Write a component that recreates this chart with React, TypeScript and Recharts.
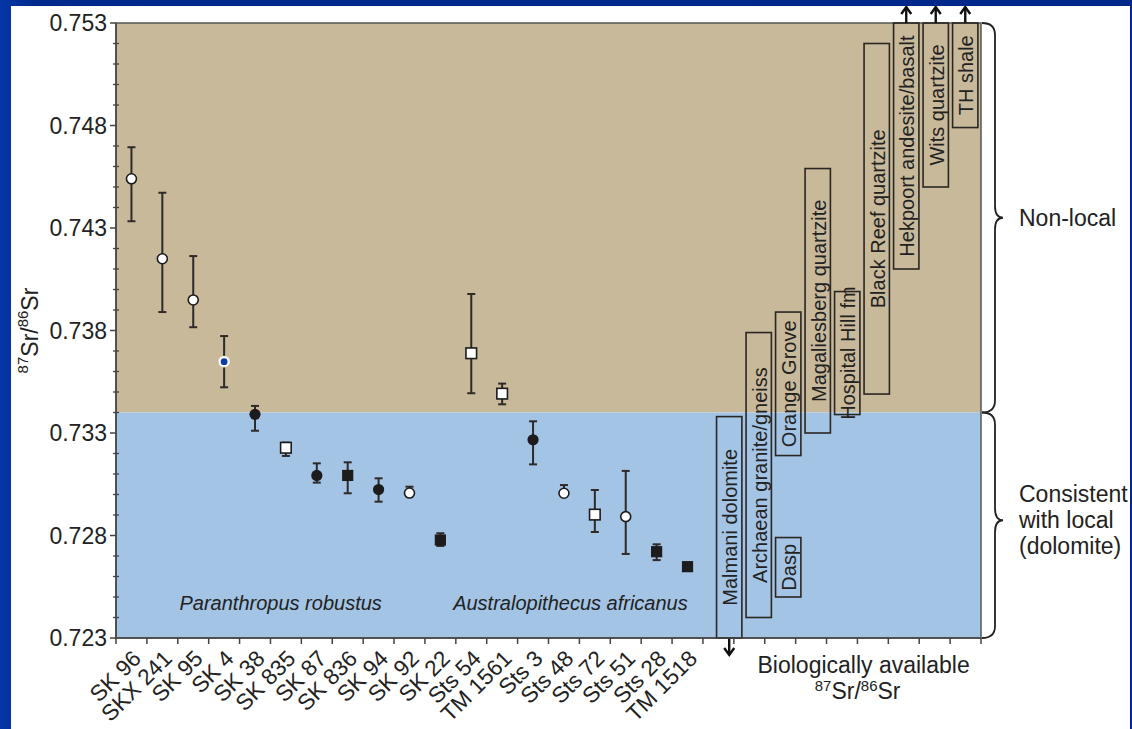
import React from "react";
import {
  ComposedChart,
  Scatter,
  ErrorBar,
  XAxis,
  YAxis,
  ReferenceArea,
  ReferenceDot,
  Label,
} from "recharts";

// hominin tooth enamel samples, left to right
const specimens = [
  "SK 96", "SKX 241", "SK 95", "SK 4", "SK 38", "SK 835", "SK 87", "SK 836", "SK 94", "SK 92",
  "SK 22", "Sts 54", "TM 1561", "Sts 3", "Sts 48", "Sts 72", "Sts 51", "Sts 28", "TM 1518",
];
const srRatio = [
  0.7454, 0.7415, 0.73949, 0.73648, 0.73391, 0.73228, 0.73093, 0.73093, 0.73024, 0.73007,
  0.72778, 0.73689, 0.73492, 0.73267, 0.73006, 0.72902, 0.72892, 0.72721, 0.72648,
];
const errAbove = [
  0.00154, 0.00322, 0.00214, 0.00125, 0.00041, 0.00025, 0.00059, 0.00064, 0.00055, 0.00031,
  0.00033, 0.00289, 0.00049, 0.0009, 0.0004, 0.0012, 0.00223, 0.00036, 0,
];
const errBelow = [
  0.00207, 0.0026, 0.00133, 0.00125, 0.0008, 0.0004, 0.00035, 0.00087, 0.00059, 0.0001,
  0.00029, 0.00195, 0.00052, 0.0012, 0.0001, 0.00085, 0.00182, 0.00041, 0,
];
const markerKinds = [
  "openCircle", "openCircle", "openCircle", "blueCircle", "filledCircle", "openSquare",
  "filledCircle", "filledSquare", "filledCircle", "openCircle", "filledSquare", "openSquare",
  "openSquare", "filledCircle", "openCircle", "openSquare", "openCircle", "filledSquare",
  "filledSquare",
];

// biologically available Sr of the rock units (null = runs off the chart)
const rockUnits = [
  "Malmani dolomite", "Archaean granite/gneiss", "Orange Grove", "Dasp",
  "Magaliesberg quartzite", "Hospital Hill fm", "Black Reef quartzite",
  "Hekpoort andesite/basalt", "Wits quartzite", "TH shale",
];
const rockLow: (number | null)[] = [null, 0.724, 0.7319, 0.725, 0.733, 0.7339, 0.7349, 0.741, 0.745, 0.7479];
const rockHigh: (number | null)[] = [0.7338, 0.7379, 0.7389, 0.7279, 0.7459, 0.7399, 0.752, null, null, null];
const rockColumn = [0, 1, 2, 2, 3, 4, 5, 6, 7, 8];

const yMajorTicks = [0.723, 0.728, 0.733, 0.738, 0.743, 0.748, 0.753];
const LOCAL_MAX = 0.734;

const Y_MIN = 0.723;
const Y_MAX = 0.753;
const N_BANDS = 28;

const W = 1119;
const H = 723;
const M_TOP = 17;
const M_RIGHT = 149;
const Y_AXIS_W = 105;
const X_AXIS_H = 91;
const PLOT_LEFT = Y_AXIS_W;
const PLOT_BOTTOM = H - X_AXIS_H;
const BAND = (W - M_RIGHT - PLOT_LEFT) / N_BANDS;

const GEO_START = 19.85;
const GEO_STEP = 0.955;
const GEO_HALF = 0.41;

const FONT = '"Liberation Sans", Arial, Helvetica, sans-serif';
const INK = "#1c1c1c";
const TAN = "#c9b99b";
const BLUE = "#a4c4e5";

const points = specimens.map((name, i) => ({
  name,
  x: i + 0.5,
  y: srRatio[i],
  err: [errBelow[i], errAbove[i]],
  kind: markerKinds[i],
}));

const yTicks: number[] = [];
for (let i = 0; i <= 30; i++) yTicks.push(Math.round((Y_MIN + i * 0.001) * 1000) / 1000);
const xTicks: number[] = [];
for (let i = 0; i <= N_BANDS; i++) xTicks.push(i);

function Marker(props: any) {
  const { cx, cy, payload } = props;
  const k = payload.kind;
  if (k === "openCircle")
    return <circle cx={cx} cy={cy} r={5} fill="#fff" stroke={INK} strokeWidth={1.6} />;
  if (k === "blueCircle")
    return (
      <g>
        <circle cx={cx} cy={cy} r={5.2} fill="#fff" stroke="#f4f4f4" strokeWidth={1.2} />
        <circle cx={cx} cy={cy} r={3.4} fill="#0a3ea6" />
      </g>
    );
  if (k === "filledCircle") return <circle cx={cx} cy={cy} r={5.6} fill={INK} />;
  if (k === "openSquare")
    return <rect x={cx - 5.3} y={cy - 5.3} width={10.6} height={10.6} fill="#fff" stroke={INK} strokeWidth={1.6} />;
  return <rect x={cx - 5.6} y={cy - 5.6} width={11.2} height={11.2} fill={INK} />;
}

function YTick(props: any) {
  const { y, payload } = props;
  const v = payload.value;
  const major = yMajorTicks.some((t) => Math.abs(t - v) < 1e-7);
  return (
    <g>
      {major ? (
        <line x1={PLOT_LEFT - 6} x2={PLOT_LEFT} y1={y} y2={y} stroke="#444" strokeWidth={1.5} />
      ) : (
        <line x1={PLOT_LEFT - 3} x2={PLOT_LEFT + 3} y1={y} y2={y} stroke="#444" strokeWidth={1.3} />
      )}
      {major && (
        <text x={PLOT_LEFT - 9} y={y} textAnchor="end" dominantBaseline="central" fontSize={23} fill="#222" fontFamily={FONT}>
          {v.toFixed(3)}
        </text>
      )}
    </g>
  );
}

function XTick(props: any) {
  const { x, payload } = props;
  const v = payload.value;
  const label = v < specimens.length ? specimens[v] : null;
  const lx = x + BAND / 2 + 11;
  const ly = PLOT_BOTTOM + 22;
  return (
    <g>
      <line x1={x} x2={x} y1={PLOT_BOTTOM} y2={PLOT_BOTTOM + 6} stroke="#444" strokeWidth={1.5} />
      {label && (
        <text x={lx} y={ly} textAnchor="end" transform={`rotate(-45, ${lx}, ${ly})`} fontSize={22.5} fill="#222" fontFamily={FONT}>
          {label}
        </text>
      )}
    </g>
  );
}

function rockShape(i: number) {
  return (p: any) => {
    const { x, y, width, height } = p;
    const cx = x + width / 2;
    const cy = y + height / 2;
    const bottom = y + height;
    return (
      <g>
        <rect x={x} y={y} width={width} height={height} fill="none" stroke="#2a2622" strokeWidth={1.6} />
        <text
          x={cx + 1}
          y={cy}
          textAnchor="middle"
          dominantBaseline="central"
          transform={`rotate(-90, ${cx + 1}, ${cy})`}
          fontSize={20}
          fill="#222"
          fontFamily={FONT}
        >
          {rockUnits[i]}
        </text>
        {rockLow[i] === null && (
          <g stroke="#111" strokeWidth={2.4} fill="none">
            <line x1={cx} x2={cx} y1={bottom} y2={bottom + 17} />
            <path d={`M${cx - 5},${bottom + 10} L${cx},${bottom + 17} L${cx + 5},${bottom + 10}`} />
          </g>
        )}
        {rockHigh[i] === null && (
          <g stroke="#111" strokeWidth={2.4} fill="none">
            <line x1={cx} x2={cx} y1={y} y2={y - 16} />
            <path d={`M${cx - 5},${y - 9} L${cx},${y - 16} L${cx + 5},${y - 9}`} />
          </g>
        )}
      </g>
    );
  };
}

function braceShape(lines: string[], lift: number) {
  return (p: any) => {
    const x0 = p.x + p.width + 1;
    const y0 = p.y;
    const y1 = p.y + p.height;
    const ym = (y0 + y1) / 2 - lift;
    const xs = x0 + 13;
    const xt = x0 + 21;
    const r = 12;
    const d = `M${x0},${y0} Q${xs},${y0} ${xs},${y0 + r} L${xs},${ym - r} Q${xs},${ym} ${xt},${ym} Q${xs},${ym} ${xs},${ym + r} L${xs},${y1 - r} Q${xs},${y1} ${x0},${y1}`;
    const step = 26;
    const first = ym - ((lines.length - 1) * step) / 2;
    return (
      <g>
        <path d={d} fill="none" stroke="#222" strokeWidth={1.8} />
        {lines.map((t, k) => (
          <text key={t} x={x0 + 37} y={first + k * step} dominantBaseline="central" fontSize={23} fill="#222" fontFamily={FONT}>
            {t}
          </text>
        ))}
      </g>
    );
  };
}

function YTitle(props: any) {
  const vb = props.viewBox;
  const x = vb.x + 19;
  const y = vb.y + vb.height / 2;
  return (
    <text x={x} y={y} transform={`rotate(-90, ${x}, ${y})`} textAnchor="middle" dominantBaseline="central" fontSize={23} fill="#222" fontFamily={FONT}>
      <tspan fontSize={15} dy={-8}>87</tspan>
      <tspan dy={8}>Sr/</tspan>
      <tspan fontSize={15} dy={-8}>86</tspan>
      <tspan dy={8}>Sr</tspan>
    </text>
  );
}

function XTitle(props: any) {
  const vb = props.viewBox;
  const cx = vb.x + 24.2 * BAND;
  return (
    <g fontFamily={FONT} fill="#222">
      <text x={cx} y={vb.y + 35} textAnchor="middle" fontSize={23}>
        Biologically available
      </text>
      <text x={cx - 6} y={vb.y + 61} textAnchor="middle" fontSize={23}>
        <tspan fontSize={15} dy={-8}>87</tspan>
        <tspan dy={8}>Sr/</tspan>
        <tspan fontSize={15} dy={-8}>86</tspan>
        <tspan dy={8}>Sr</tspan>
      </text>
    </g>
  );
}

function italicText(text: string) {
  return (p: any) => (
    <text x={p.cx} y={p.cy} textAnchor="middle" dominantBaseline="central" fontStyle="italic" fontSize={20} fill="#222" fontFamily={FONT}>
      {text}
    </text>
  );
}

export default function App() {
  return (
    <div
      style={{
        position: "fixed",
        left: 0,
        top: 0,
        width: 1132,
        height: 729,
        overflow: "hidden",
        background: "linear-gradient(90deg, #0637a6 0%, #002a8c 3%, #00288a 100%)",
      }}
    >
      <div style={{ position: "absolute", left: 11, top: 6, width: W, height: H, background: "#fff" }}>
        <ComposedChart width={W} height={H} margin={{ top: M_TOP, right: M_RIGHT, bottom: 0, left: 0 }}>
          <XAxis
            type="number"
            dataKey="x"
            domain={[0, N_BANDS]}
            ticks={xTicks}
            interval={0}
            allowDataOverflow
            height={X_AXIS_H}
            tick={<XTick />}
            tickLine={false}
            axisLine={{ stroke: "#444", strokeWidth: 1.5 }}
          >
            <Label content={<XTitle />} />
          </XAxis>
          <YAxis
            type="number"
            dataKey="y"
            domain={[Y_MIN, Y_MAX]}
            ticks={yTicks}
            interval={0}
            allowDataOverflow
            width={Y_AXIS_W}
            tick={<YTick />}
            tickLine={false}
            axisLine={{ stroke: "#444", strokeWidth: 1.5 }}
          >
            <Label content={<YTitle />} />
          </YAxis>

          <ReferenceArea x1={0} x2={N_BANDS} y1={LOCAL_MAX} y2={Y_MAX} fill={TAN} fillOpacity={1} stroke="none" />
          <ReferenceArea x1={0} x2={N_BANDS} y1={Y_MIN} y2={LOCAL_MAX} fill={BLUE} fillOpacity={1} stroke="none" />
          <ReferenceArea x1={0} x2={N_BANDS} y1={Y_MIN} y2={Y_MAX} fill="none" stroke="#555" strokeWidth={1.5} />

          {rockUnits.map((name, i) => (
            <ReferenceArea
              key={name}
              x1={GEO_START + rockColumn[i] * GEO_STEP - GEO_HALF}
              x2={GEO_START + rockColumn[i] * GEO_STEP + GEO_HALF}
              y1={rockLow[i] ?? Y_MIN}
              y2={rockHigh[i] ?? Y_MAX}
              ifOverflow="visible"
              shape={rockShape(i)}
            />
          ))}

          <ReferenceArea x1={27} x2={28} y1={LOCAL_MAX} y2={Y_MAX} ifOverflow="visible" shape={braceShape(["Non-local"], 0)} />
          <ReferenceArea
            x1={27}
            x2={28}
            y1={Y_MIN}
            y2={LOCAL_MAX}
            ifOverflow="visible"
            shape={braceShape(["Consistent", "with local", "(dolomite)"], 5)}
          />

          <ReferenceDot x={5.33} y={0.72471} r={0} ifOverflow="visible" shape={italicText("Paranthropus robustus")} />
          <ReferenceDot x={14.71} y={0.72471} r={0} ifOverflow="visible" shape={italicText("Australopithecus africanus")} />

          <Scatter data={points} dataKey="y" shape={<Marker />} isAnimationActive={false}>
            <ErrorBar dataKey="err" direction="y" width={4} stroke="#2e2a28" strokeWidth={2} />
          </Scatter>
        </ComposedChart>
      </div>
    </div>
  );
}
